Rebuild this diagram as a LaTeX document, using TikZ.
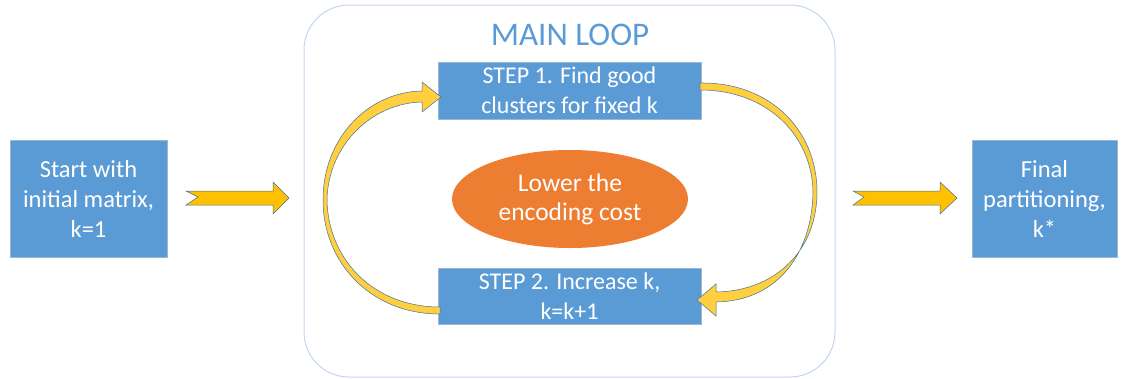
\documentclass[tikz,border=0pt]{standalone}
\usepackage{fontspec}
\setmainfont{Carlito}
\usetikzlibrary{shapes.geometric,calc}
\definecolor{boxblue}{HTML}{5B9BD5}
\definecolor{boxedge}{HTML}{9CB6D6}
\definecolor{loopedge}{HTML}{C3D6EE}
\definecolor{ovalorange}{HTML}{ED7D31}
\definecolor{arrowyellow}{HTML}{FFC000}
\definecolor{curveyellow}{HTML}{FFCF3F}
\definecolor{arrowedge}{HTML}{41719C}
\tikzset{
  bluebox/.style={draw=boxedge, line width=0.8pt, fill=boxblue, text=white,
    align=center, inner sep=0pt, font=\fontsize{24.5}{30}\selectfont},
  stepbox/.style={bluebox, minimum width=263pt, minimum height=57pt,
    font=\fontsize{24}{30}\selectfont},
  blockarrow/.style={draw=arrowedge, line width=0.5pt, fill=arrowyellow, line join=miter},
  curvearrow/.style={draw=arrowedge, line width=0.5pt, fill=curveyellow, line join=miter},
}
\begin{document}
\begin{tikzpicture}[x=1pt,y=-1pt]
  \useasboundingbox (0,0) rectangle (1126,378);

  % outer frame of the main loop
  \node[draw=loopedge, line width=1pt, rounded corners=45pt, fill=white,
        minimum width=531pt, minimum height=372pt, inner sep=0pt]
        (loop) at (569.5,191) {};
  \node[text=boxblue, font=\fontsize{33}{36}\selectfont, anchor=base]
        (title) at (570,45) {MAIN LOOP};

  % boxes
  \node[bluebox, minimum width=157pt, minimum height=117pt] (start) at (88.5,198.5)
        {Start with\\initial matrix,\\k=1};
  \node[bluebox, minimum width=145pt, minimum height=117pt] (final) at (1044.5,198.5)
        {Final\\partitioning,\\k*};
  \node[stepbox] (step1) at (569.5,90.5) {STEP 1. Find good\\clusters for fixed k};
  \node[stepbox, minimum height=56pt] (step2) at (569.5,296) {STEP 2. Increase k,\\k=k+1};

  % centre oval
  \node[ellipse, fill=ovalorange, text=white, minimum width=236pt, minimum height=98pt,
        inner sep=0pt, align=center, font=\fontsize{25.5}{29}\selectfont]
        (cost) at (570,199) {Lower the\\encoding cost};

  % notched block arrows into and out of the loop
  \coordinate (in1) at (186,199);
  \draw[blockarrow] (in1) ++(0,-8) -- ++(87,0) -- ++(0,-9) -- ++(16,16) -- ++(-16,16)
        -- ++(0,-9) -- ++(-87,0) -- ++(12,-8) -- cycle;
  \coordinate (out1) at (853,199);
  \draw[blockarrow] (out1) ++(0,-8) -- ++(87,0) -- ++(0,-9) -- ++(17,16) -- ++(-17,16)
        -- ++(0,-9) -- ++(-87,0) -- ++(11,-8) -- cycle;

  % curved arrow: step 1 -> step 2 (right side)
  \draw[curvearrow] (700,83) .. controls (770,82) and (817,130) .. (817,192)
        .. controls (817,250) and (776,291) .. (716,292)
        -- (716,284) -- (697,300) -- (716,316) -- (716,302)
        .. controls (779,301) and (812,252) .. (813,192)
        .. controls (812,136) and (768,90) .. (700,90) -- cycle;

  % curved arrow: step 2 -> step 1 (left side)
  \draw[curvearrow] (440,314) .. controls (370,314) and (323,262) .. (323,200)
        .. controls (323,138) and (368,92) .. (422,91)
        -- (422,82) -- (441,97) -- (422,112) -- (422,102)
        .. controls (372,103) and (328,145) .. (327,200)
        .. controls (328,258) and (372,307) .. (440,307) -- cycle;
\end{tikzpicture}
\end{document}
